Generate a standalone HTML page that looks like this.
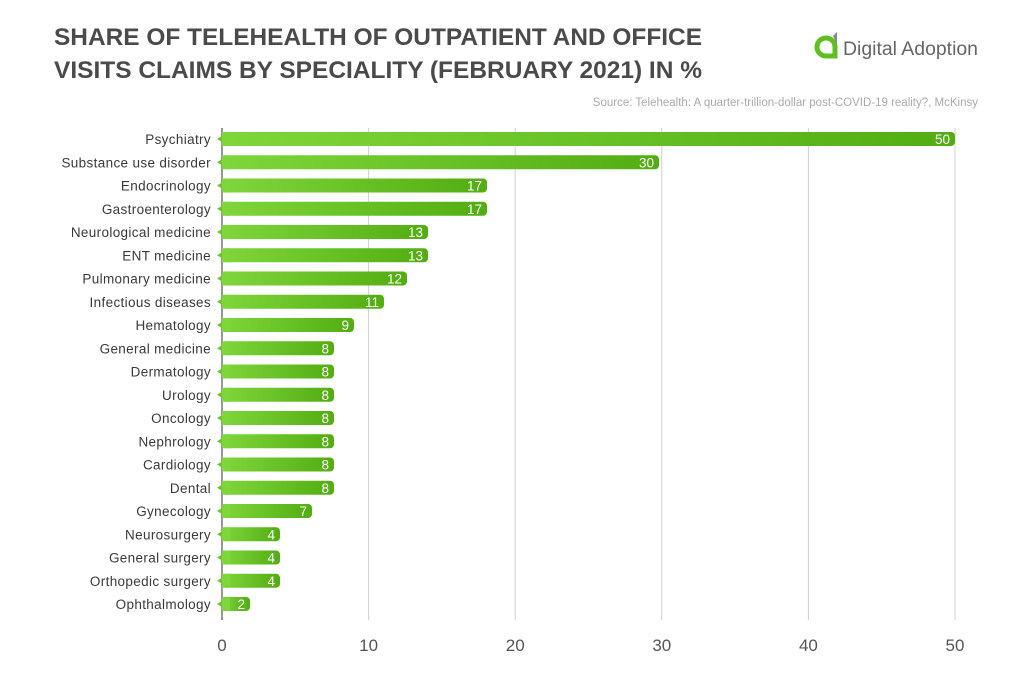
<!DOCTYPE html>
<html><head><meta charset="utf-8"><style>
body{margin:0;background:#fff;}
svg{display:block;font-family:"Liberation Sans",sans-serif;}
</style></head><body>
<svg width="1024" height="683" viewBox="0 0 1024 683">
<defs>
<linearGradient id="g" x1="0" x2="1" y1="0" y2="0">
<stop offset="0" stop-color="#7fd63b"/><stop offset="1" stop-color="#52ad12"/>
</linearGradient>
</defs>
<text x="54" y="45" font-size="24" font-weight="bold" fill="#4a4a4a" textLength="648" lengthAdjust="spacingAndGlyphs">SHARE OF TELEHEALTH OF OUTPATIENT AND OFFICE</text>
<text x="54" y="78" font-size="24" font-weight="bold" fill="#4a4a4a" textLength="648" lengthAdjust="spacingAndGlyphs">VISITS CLAIMS BY SPECIALITY (FEBRUARY 2021) IN %</text>
<g>
<path d="M826 56 A9 9 0 1 1 835 47 L835 56 Z" fill="none" stroke="#5fbf1f" stroke-width="5"/>
<path d="M833 36 L837 32 L837 44 Z" fill="#888"/>
<text x="843" y="55" font-size="19" fill="#666" textLength="135" lengthAdjust="spacingAndGlyphs">Digital Adoption</text>
</g>
<text x="978" y="106" font-size="11.5" fill="#aaa" text-anchor="end">Source: Telehealth: A quarter-trillion-dollar post-COVID-19 reality?, McKinsy</text>
<g stroke="#d0d0d0" stroke-width="1">
<line x1="368.6" y1="128" x2="368.6" y2="620"/>
<line x1="515.2" y1="128" x2="515.2" y2="620"/>
<line x1="661.8" y1="128" x2="661.8" y2="620"/>
<line x1="808.4" y1="128" x2="808.4" y2="620"/>
<line x1="955" y1="128" x2="955" y2="620"/>
</g>
<line x1="222" y1="128" x2="222" y2="620" stroke="#555" stroke-width="1.2"/>
<g font-size="17" fill="#555" text-anchor="middle">
<text x="222" y="651">0</text><text x="368.6" y="651">10</text><text x="515.2" y="651">20</text><text x="661.8" y="651">30</text><text x="808.4" y="651">40</text><text x="955" y="651">50</text>
</g>
<g id="bars"></g>
</svg>
<script>
var d=[["Psychiatry",50,955],["Substance use disorder",30,659],["Endocrinology",17,487],["Gastroenterology",17,487],["Neurological medicine",13,428],["ENT medicine",13,428],["Pulmonary medicine",12,407],["Infectious diseases",11,384],["Hematology",9,354],["General medicine",8,334],["Dermatology",8,334],["Urology",8,334],["Oncology",8,334],["Nephrology",8,334],["Cardiology",8,334],["Dental",8,334],["Gynecology",7,312],["Neurosurgery",4,280],["General surgery",4,280],["Orthopedic surgery",4,280],["Ophthalmology",2,250]];
var s="";
d.forEach(function(r,i){var y=139+i*23.25;
s+='<rect x="222" y="'+(y-7)+'" width="'+(r[2]-222)+'" height="14" rx="4" fill="url(#g)"/>';
s+='<rect x="222" y="'+(y-7)+'" width="8" height="14" fill="#7fd63b"/>';
s+='<path d="M217 '+y+' L222 '+(y-3)+' L222 '+(y+3)+' Z" fill="#6cc42c"/>';
s+='<text x="211" y="'+(y+5)+'" font-size="13.5" fill="#3a3a3a" text-anchor="end" style="letter-spacing:0.35px">'+r[0]+'</text>';
s+='<text x="'+(r[2]-5)+'" y="'+(y+5)+'" font-size="13.5" fill="#fff" text-anchor="end">'+r[1]+'</text>';});
document.getElementById("bars").innerHTML=s;
</script>
</body></html>
